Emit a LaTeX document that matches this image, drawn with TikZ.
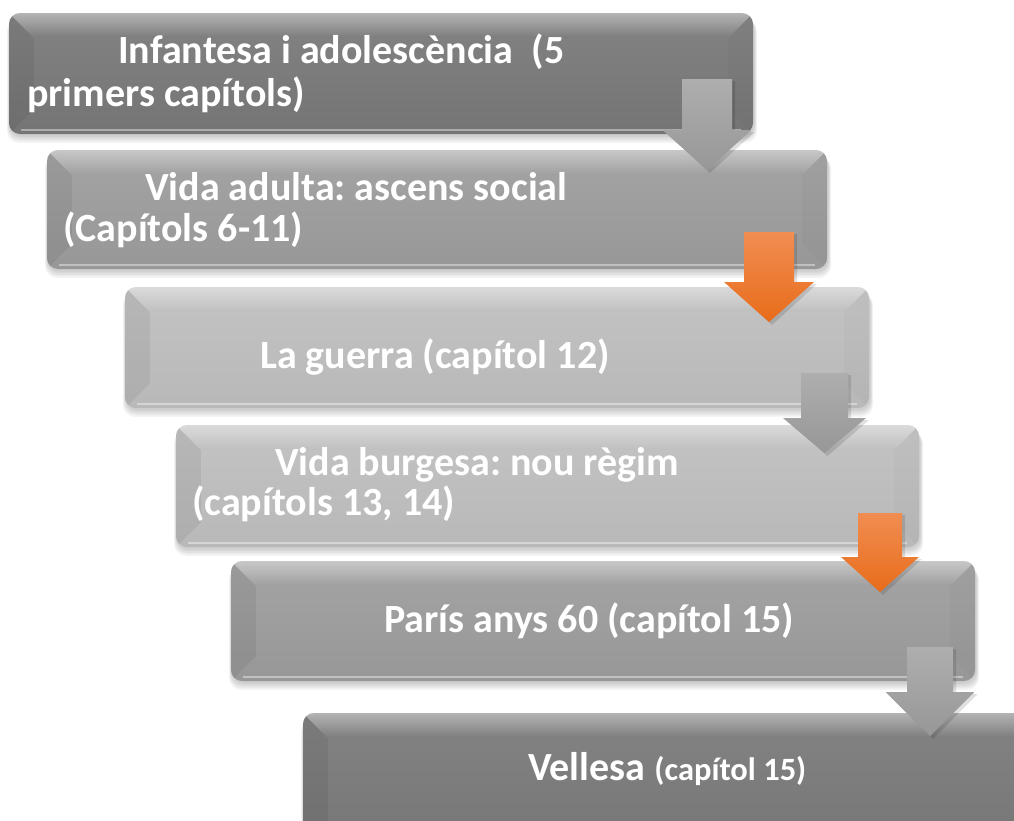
\documentclass[tikz,border=0pt]{standalone}
\usepackage{fontspec}
\setmainfont{Carlito}
\frenchspacing
\usetikzlibrary{calc}
\definecolor{boxdark}{HTML}{787878}
\definecolor{boxmid}{HTML}{9C9C9C}
\definecolor{boxlight}{HTML}{BEBEBE}
\definecolor{arrgrayA}{HTML}{AEAEAE}
\definecolor{arrgrayB}{HTML}{979797}
\definecolor{arrorA}{HTML}{F18D52}
\definecolor{arrorB}{HTML}{E86C1A}
\tikzset{
  stagebox/.style={rounded corners=11pt, inner sep=0pt, draw=none},
  stagetext/.style={anchor=base west, inner sep=0pt, text=white, font=\fontsize{40}{46}\selectfont\bfseries},
}
% name, x1, y1, x2, y2, colour  (pixel coordinates, y downwards)
\newcommand\bevelbox[6]{%
  \foreach \s in {1,...,5}{
    \fill[black,opacity=0.04,rounded corners=12pt] ({#2+1-\s*0.6},{-(#3+6)}) rectangle ({#4+1+\s*0.6},{-(#5+1+\s*1.6)});
  }
  \node[stagebox, minimum width={(#4-#2)*1pt}, minimum height={(#5-#3)*1pt}, top color=#6!92!white, bottom color=#6!97!black] (#1) at ({(#2+#4)/2},{-(#3+#5)/2}) {};
  \begin{scope}
    \clip[rounded corners=11pt] (#1.south west) rectangle (#1.north east);
    \fill[black,opacity=0.06] (#1.north west) -- ++(25,-25) -- ($(#1.south west)+(25,25)$) -- (#1.south west) -- cycle;
    \fill[black,opacity=0.02] (#1.north east) -- ++(-25,-25) -- ($(#1.south east)+(-25,25)$) -- (#1.south east) -- cycle;
    \shade[top color=white, bottom color=#6, opacity=0.4] (#1.north west) -- (#1.north east) -- ++(-25,-25) -- ($(#1.north west)+(25,-25)$) -- cycle;
    \draw[white,opacity=0.4,line width=2pt] ($(#1.south west)+(12,4)$) -- ($(#1.south east)+(-12,4)$);
  \end{scope}
}
% name, cx, top, headY, tip, shaftHalf, headHalf, colourTop, colourBottom
\newcommand\blockarrow[9]{%
  \coordinate (#1) at ({#2},{-#5});
  \fill[black,opacity=0.12] ({#2-#6+3},{-#3-2}) -- ({#2+#6+3},{-#3-2}) -- ({#2+#6+3},{-#4-2}) -- ({#2+#7+3},{-#4-2}) -- ({#2+3},{-#5-3}) -- ({#2-#7+3},{-#4-2}) -- ({#2-#6+3},{-#4-2}) -- cycle;
  \shade[top color=#8, bottom color=#9] ({#2-#6},{-#3}) -- ({#2+#6},{-#3}) -- ({#2+#6},{-#4}) -- ({#2+#7},{-#4}) -- ({#2},{-#5}) -- ({#2-#7},{-#4}) -- ({#2-#6},{-#4}) -- cycle;
}
\begin{document}
\begin{tikzpicture}[x=1pt,y=1pt]
\useasboundingbox (0,0) rectangle (1014,-820);
\fill[white] (0,0) rectangle (1014,-820);
\clip (0,0) rectangle (1014,-820);

\bevelbox{b1}{9}{13}{753}{134}{boxdark}
\bevelbox{b2}{47}{150}{827}{269}{boxmid}
\bevelbox{b3}{125}{287}{869}{408}{boxlight}
\bevelbox{b4}{176}{425}{919}{547}{boxlight}
\bevelbox{b5}{231}{561}{975}{681}{boxmid}
\bevelbox{b6}{303}{713}{1040}{870}{boxdark}

\node[stagetext] (t1a) at (118,-63) {Infantesa i adolescència\ \ (5};
\node[stagetext] (t1b) at (27,-106) {primers capítols)};
\node[stagetext] (t2a) at (145,-200) {Vida adulta: ascens social};
\node[stagetext] (t2b) at (63,-241) {(Capítols 6-11)};
\node[stagetext] (t3) at (260,-368) {La guerra (capítol 12)};
\node[stagetext] (t4a) at (275,-475) {Vida burgesa: nou règim};
\node[stagetext] (t4b) at (192,-515) {(capítols 13, 14)};
\node[stagetext] (t5) at (384,-632) {París anys 60 (capítol 15)};
\node[stagetext] (t6) at (528,-780) {Vellesa {\fontsize{32.5}{36}\selectfont\bfseries(capítol 15)}};

\blockarrow{a1}{707}{79}{130}{170}{25}{44.5}{arrgrayA}{arrgrayB}
\blockarrow{a2}{769}{232}{282}{322}{25}{45}{arrorA}{arrorB}
\blockarrow{a3}{824.5}{373}{418}{453}{23.5}{41.5}{arrgrayA}{arrgrayB}
\blockarrow{a4}{880}{513}{557}{592}{22}{39}{arrorA}{arrorB}
\blockarrow{a5}{930}{647}{692}{736}{23}{44.5}{arrgrayA}{arrgrayB}
\end{tikzpicture}
\end{document}
